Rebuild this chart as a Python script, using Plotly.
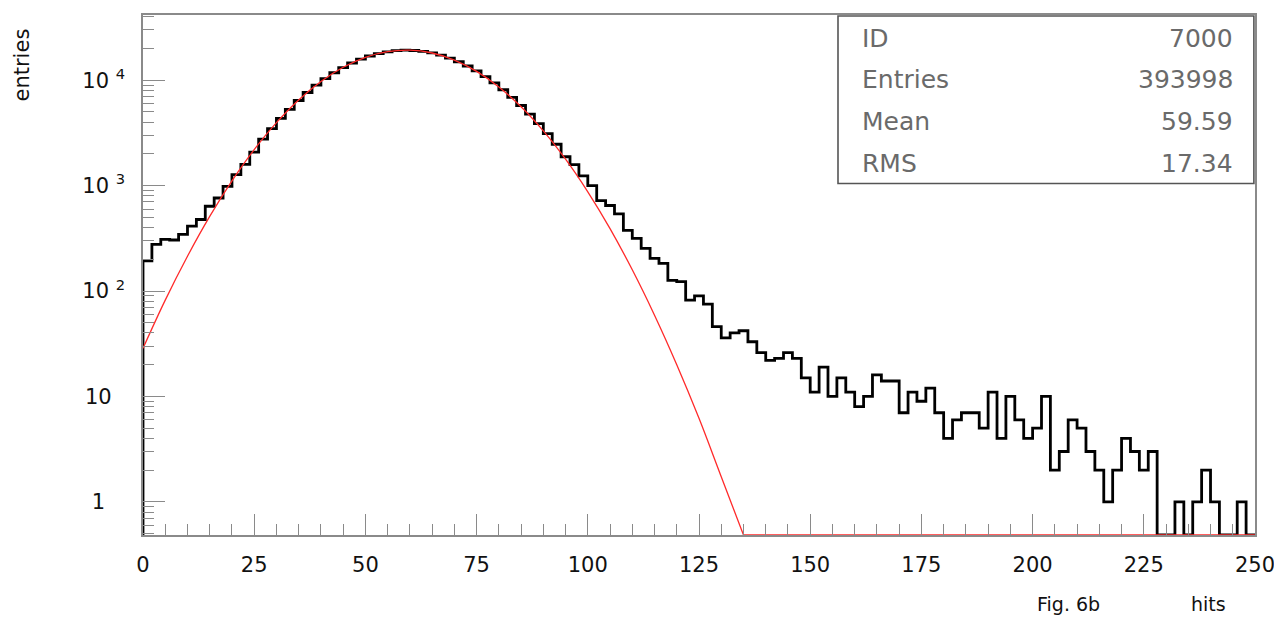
import plotly.graph_objects as go

# ---------------- data ----------------
bin_width = 2
x_min, x_max = 0, 250

# histogram contents, bins [0,2), [2,4), ... [248,250)
counts = [
    193, 277, 309, 305, 344, 412, 477, 637, 763, 985,
    1270, 1590, 2080, 2760, 3480, 4350, 5300, 6420, 7650, 8980,
    10350, 11780, 13200, 14580, 15850, 16980, 17920, 18620, 19100, 19280,
    19160, 18800, 18150, 17280, 16200, 14980, 13650, 12250, 10840, 9450,
    8120, 6880, 5760, 4760, 3880, 3110, 2470, 1880, 1580, 1240,
    1000, 721, 648, 540, 376, 316, 254, 204, 183, 126,
    123, 82, 90, 75, 46, 36, 40, 42, 33, 26,
    22, 23, 26, 23, 15, 11, 19, 10, 15, 11,
    8, 10, 16, 14, 14, 7, 11, 9, 12, 7,
    4, 6, 7, 7, 5, 11, 4, 10, 6, 4,
    5, 10, 2, 3, 6, 5, 3, 2, 1, 2,
    4, 3, 2, 3, 0, 0, 1, 0, 1, 2,
    1, 0, 0, 1, 0,
]

# gaussian fit curve
fit_x = [0, 5, 10, 15, 20, 25, 30, 35, 40, 45, 50, 55, 60, 65,
         70, 75, 80, 85, 90, 95, 100, 105, 110, 115, 120, 125, 130, 135]
fit_y = [28.6, 82, 214, 511, 1109, 2194, 3956, 6500, 9727, 13270, 16500, 18680, 19290, 18130,
         15540, 12130, 8640, 5600, 3309, 1782, 874, 391, 159, 59, 20, 6.2, 1.73, 0.443]

# statistics box
stat_names = ["ID", "Entries", "Mean", "RMS"]
stat_values = ["7000", "393998", "59.59", "17.34"]

# axis ticks
x_ticks = [0, 25, 50, 75, 100, 125, 150, 175, 200, 225, 250]
y_ticks = [1, 10, 100, 1000, 10000]
y_ticktext = ["1\u00a0\u00a0\u00a0", "10\u00a0\u00a0", "10 <sup>2</sup>", "10 <sup>3</sup>", "10 <sup>4</sup>"]

y_lo_log, y_hi_log = -0.315, 4.619
floor_val = 10 ** y_lo_log

# ---------------- build the step outline ----------------
edges = [x_min + i * bin_width for i in range(len(counts) + 1)]
plot_counts = [c if c > 0 else floor_val for c in counts]
step_x = [edges[0]] + edges
step_y = [floor_val] + plot_counts + [plot_counts[-1]]

fig = go.Figure()

fig.add_trace(go.Scatter(
    x=step_x, y=step_y, mode="lines", line_shape="hv",
    line=dict(color="black", width=2.8), hoverinfo="skip", showlegend=False))

fit_plot_y = [v if v > floor_val else floor_val for v in fit_y]
fig.add_trace(go.Scatter(
    x=fit_x, y=fit_plot_y, mode="lines", line_shape="spline",
    line=dict(color="#ff2a2a", width=1.3, smoothing=1.0), hoverinfo="skip", showlegend=False))
fig.add_trace(go.Scatter(
    x=[fit_x[-1], x_max], y=[floor_val, floor_val], mode="lines",
    line=dict(color="#ff2a2a", width=1.3), hoverinfo="skip", showlegend=False))

tick_font = dict(family="DejaVu Sans", size=21, color="#111")

fig.update_xaxes(
    range=[x_min, x_max], showgrid=False, zeroline=False,
    showline=True, linecolor="#8a8a8a", linewidth=1.5, mirror=True,
    ticks="inside", ticklen=21, tickwidth=1.2, tickcolor="#8a8a8a",
    tickvals=x_ticks, ticktext=[str(t) for t in x_ticks],
    tickfont=tick_font, ticklabelstandoff=10,
    minor=dict(ticks="inside", ticklen=11, tickwidth=1.2, tickcolor="#8a8a8a", dtick=5, showgrid=False),
)
fig.update_yaxes(
    type="log", range=[y_lo_log, y_hi_log], showgrid=False, zeroline=False,
    showline=True, linecolor="#8a8a8a", linewidth=1.5, mirror=True,
    ticks="inside", ticklen=22, tickwidth=1.2, tickcolor="#8a8a8a",
    tickvals=y_ticks, ticktext=y_ticktext,
    tickfont=tick_font, ticklabelstandoff=12,
    minor=dict(ticks="inside", ticklen=11, tickwidth=1.2, tickcolor="#8a8a8a", dtick="D1", showgrid=False),
)

# stats box
fig.add_shape(type="rect", xref="paper", yref="paper",
              x0=0.625, x1=0.999, y0=0.676, y1=0.998,
              line=dict(color="#555", width=1.6), fillcolor="white", layer="above")
row_y = [0.954, 0.8755, 0.795, 0.7146]
for name, val, yy in zip(stat_names, stat_values, row_y):
    fig.add_annotation(x=0.6448, y=yy, xref="paper", yref="paper", text=name,
                       showarrow=False, xanchor="left", yanchor="middle",
                       font=dict(family="DejaVu Sans", size=25, color="#6a6a6a"))
    fig.add_annotation(x=0.982, y=yy, xref="paper", yref="paper", text=val,
                       showarrow=False, xanchor="right", yanchor="middle",
                       font=dict(family="DejaVu Sans", size=25, color="#6a6a6a"))

# axis titles
fig.add_annotation(x=-0.1088, y=0.977, xref="paper", yref="paper", text="entries",
                   textangle=-90, showarrow=False, xanchor="center", yanchor="top",
                   font=dict(family="DejaVu Sans", size=21, color="#111"))
fig.add_annotation(x=(1068 - 143) / 1112, y=(535 - 604) / 522, xref="paper", yref="paper",
                   text="Fig. 6b", showarrow=False, xanchor="center", yanchor="middle",
                   font=dict(family="DejaVu Sans", size=19, color="#111"))
fig.add_annotation(x=(1208 - 143) / 1112, y=(535 - 604) / 522, xref="paper", yref="paper",
                   text="hits", showarrow=False, xanchor="center", yanchor="middle",
                   font=dict(family="DejaVu Sans", size=19, color="#111"))

# the page body has an 8px margin, so the figure is sized to fit the window
fig.update_layout(
    width=1274, height=610, autosize=False,
    margin=dict(l=135, r=27, t=5, b=83, pad=0),
    paper_bgcolor="white", plot_bgcolor="white",
    showlegend=False,
)

fig.write_html("out.html")
